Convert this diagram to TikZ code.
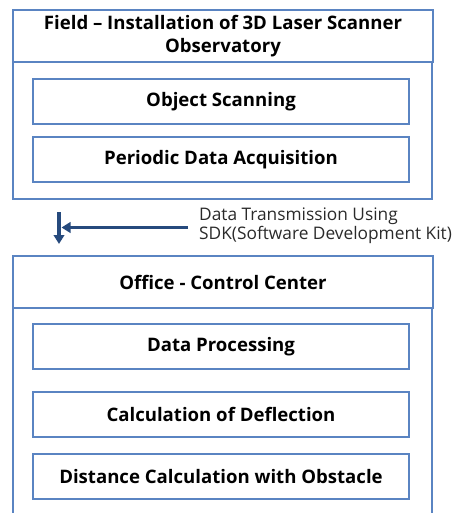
\documentclass[tikz,border=0pt]{standalone}
\usepackage{fontspec}
\setmainfont{Open Sans}
\usetikzlibrary{arrows.meta}
\definecolor{boxblue}{HTML}{5A84C2}
\definecolor{arrowblue}{HTML}{264A7D}
\definecolor{labelgray}{HTML}{2A2A2A}
\begin{document}
\begin{tikzpicture}[x=1pt,y=-1pt,
  frame/.style={draw=boxblue,line width=1.6pt},
  header/.style={frame,minimum width=420pt,font=\bfseries\fontsize{18.6}{23}\selectfont,align=center,inner sep=0pt},
  item/.style={frame,minimum width=376pt,minimum height=45pt,font=\bfseries\fontsize{18.6}{22}\selectfont,inner sep=0pt},
  conn/.style={draw=arrowblue,line width=3.2pt,-{Triangle[length=9pt,width=10.5pt]}}]
\useasboundingbox (0,0) rectangle (459,513);
% top group
\draw[frame] (13,62) rectangle (432,199);
\node[header,minimum height=52pt] (field) at (223,36) {Field – Installation of 3D Laser Scanner\\Observatory};
\node[item] (scan) at (221,101.5) {Object Scanning};
\node[item] (acq) at (221,159.5) {Periodic Data Acquisition};
% bottom group
\draw[frame] (13,308) -- (13,514);
\draw[frame] (432,308) -- (432,514);
\node[header,minimum height=52pt] (office) at (223,282) {Office - Control Center};
\node[item] (proc) at (221,346.5) {Data Processing};
\node[item] (defl) at (221,414.5) {Calculation of Deflection};
\node[item] (dist) at (221,476.5) {Distance Calculation with Obstacle};
% transmission
\coordinate (vtop) at (59,212);
\coordinate (vbot) at (59,244);
\coordinate (hstart) at (188,227.5);
\coordinate (hend) at (61.5,227.5);
\draw[conn] (vtop) -- (vbot);
\draw[conn] (hstart) -- (hend);
\node[anchor=west,align=left,text=labelgray,font=\fontsize{17.3}{19}\selectfont,inner sep=0pt] (lbl) at (199,225.5) {Data Transmission Using\\SDK(Software Development Kit)};
\end{tikzpicture}
\end{document}
